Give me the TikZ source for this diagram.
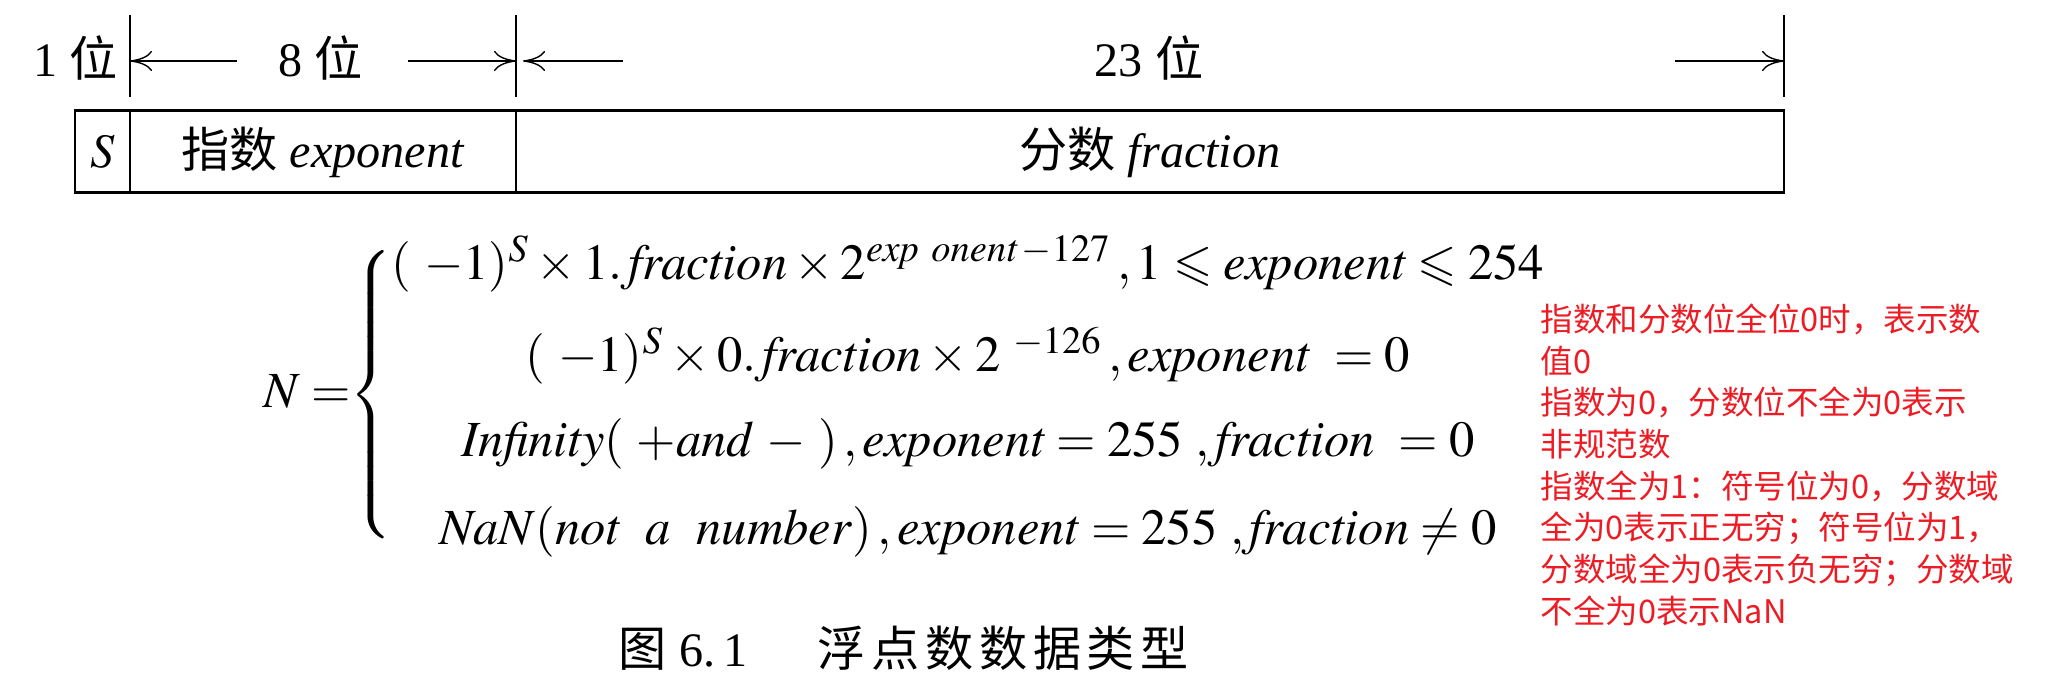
\documentclass[tikz,border=0pt]{standalone}
\usepackage{amssymb}
\usepackage{mathptmx}
\usepackage{fontspec}
\setmainfont{Liberation Serif}
\newfontfamily\cjk{Noto Sans CJK SC}
\newfontfamily\cjkspaced{Noto Sans CJK SC}[LetterSpace=12]
\usetikzlibrary{arrows.meta, positioning}
\definecolor{note-red}{RGB}{237,28,36}
\newcommand{\zh}[1]{{\cjk #1}}
\tikzset{
  bit-label/.style={font=\fontsize{13.7}{16}\selectfont, inner sep=0pt},
  field-cell/.style={
    draw, line width=0.85pt, outer sep=0pt, inner sep=0pt,
    minimum height=8.2mm, font=\fontsize{13.7}{16}\selectfont
  },
  dim-arrow/.style={-{To[length=2.2mm, width=2mm]}, line width=0.4pt},
  tick-line/.style={line width=0.6pt},
  case-row/.style={anchor=base, inner sep=0pt, font=\fontsize{14.4}{17}\selectfont},
  note-text/.style={
    anchor=north west, inner sep=0pt, align=left, text=note-red,
    font=\cjk\fontsize{9.25}{11.86}\selectfont
  }
}

\begin{document}
\begin{tikzpicture}[x=0.1mm, y=-0.1mm]
  \useasboundingbox (0,0) rectangle (2050,693);

  % bit fields
  \node[field-cell, minimum width=5.5mm, anchor=north west] (sign) at (75,111) {$S$};
  \node[field-cell, minimum width=38.6mm, right=0pt of sign] (expo) {\zh{指数} \textit{exponent}};
  \node[field-cell, minimum width=126.8mm, right=0pt of expo] (frac) {\zh{分数} \textit{fraction}};

  % widths above the fields
  \coordinate (t0) at (130,61);
  \coordinate (t1) at (516,61);
  \coordinate (t2) at (1784,61);
  \foreach \t in {t0, t1, t2}
    \draw[tick-line] (\t) ++(0,-46) -- ++(0,82);

  \node[bit-label, anchor=east] (one-bit) at (118,58) {1 \zh{位}};
  \node[bit-label] (eight-bits) at (321,58) {8 \zh{位}};
  \node[bit-label] (mant-bits) at (1149,58) {23 \zh{位}};

  \coordinate (a0) at (237,61);
  \coordinate (a1) at (408,61);
  \coordinate (a2) at (623,61);
  \coordinate (a3) at (1675,61);
  \draw[dim-arrow] (a0) -- (t0);
  \draw[dim-arrow] (a1) -- (t1);
  \draw[dim-arrow] (a2) -- ([xshift=2]t1);
  \draw[dim-arrow] (a3) -- (t2);

  % value of N
  \node[case-row, anchor=base west] (lhs) at (263,408) {$N=$};
  \node[inner sep=0pt] (brace) at (373,396)
    {\fontsize{13.7}{16}\selectfont$\left\{\vrule height 13.5mm depth 13.5mm width 0pt\right.$};
  \node[case-row] (case-norm) at (968,280)
    {$(\ -1)^{S}\times 1.\,\mathit{fraction}\times 2^{\mathit{exp\ onent}\,-127}\,,1\leqslant \mathit{exponent}\leqslant 254$};
  \node[case-row] (case-sub) at (968,372)
    {$(\ -1)^{S}\times 0.\,\mathit{fraction}\times 2^{\ -126}\,,\mathit{exponent}\ =0$};
  \node[case-row] (case-inf) at (968,457)
    {$\mathit{Infinity}(\ +\mathit{and}\ -\ )\,,\mathit{exponent}=255\ ,\mathit{fraction}\ =0$};
  \node[case-row] (case-nan) at (968,545)
    {$\mathit{NaN}(\mathit{not\ \ a\ \ number})\,,\mathit{exponent}=255\ ,\mathit{fraction}\neq 0$};

  % notes
  \node[note-text] (notes) at (1540,303)
    {指数和分数位全位0时，表示数\\值0\\指数为0，分数位不全为0表示\\非规范数\\指数全为1：符号位为0，分数域\\全为0表示正无穷；符号位为1，\\分数域全为0表示负无穷；分数域\\不全为0表示NaN};

  \node[bit-label] (caption) at (904,648)
    {\zh{图} 6.\,1\hspace{7mm}{\cjkspaced 浮点数数据类型}};
\end{tikzpicture}
\end{document}
